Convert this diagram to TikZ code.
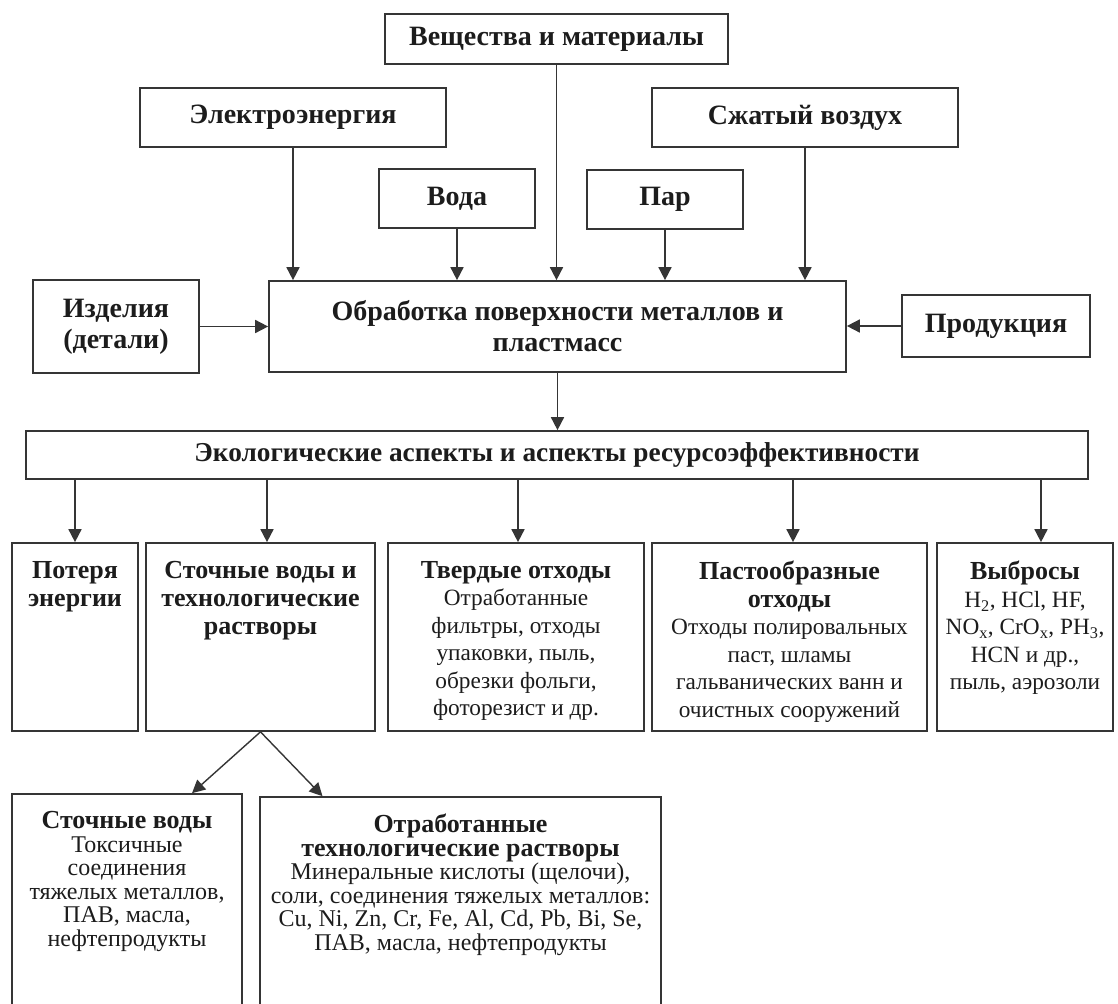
\documentclass[tikz,border=0pt]{standalone}
\usepackage{fontspec}
\setmainfont{Liberation Serif}
\usetikzlibrary{arrows.meta,positioning,calc}
\definecolor{ink}{HTML}{1C1C1C}
\definecolor{edge}{HTML}{353535}
\newcommand{\hdfont}{\fontsize{28}{31}\selectfont\bfseries}
\newcommand{\rowhd}{\fontsize{26}{27.5}\selectfont\bfseries}
\newcommand{\rowfont}{\fontsize{23.3}{27.5}\selectfont}
\newcommand{\lowhd}{\fontsize{26}{23.5}\selectfont\bfseries}
\newcommand{\lowfont}{\fontsize{24}{23.5}\selectfont}
\tikzset{
  every node/.style={font=\rowfont, text=ink},
  box/.style={draw=edge, line width=1.7pt, align=center, inner sep=0pt},
  hd/.style={box, font=\hdfont},
  txt/.style={align=center, inner sep=0pt, anchor=north},
  arr/.style={-{Triangle[length=13pt,width=13pt]}, draw=edge, line width=1.7pt},
}

\begin{document}
\begin{tikzpicture}[x=1pt,y=-1pt]
  \useasboundingbox (0,0) rectangle (1118,1003);
  \clip (0,0) rectangle (1118,1003);

  % resources coming in
  \node[hd, minimum width=343pt, minimum height=50pt] (mat) at (556.5,39) {Вещества и материалы};
  \node[hd, minimum width=306pt, minimum height=59pt] (elec) at (293,117.5) {Электроэнергия};
  \node[hd, minimum width=306pt, minimum height=59pt] (air) at (805,117.5) {Сжатый воздух};
  \node[hd, minimum width=156pt, minimum height=59pt] (water) at (457,198.5) {Вода};
  \node[hd, minimum width=156pt, minimum height=59pt] (steam) at (665,199.5) {Пар};

  \node[hd, minimum width=577pt, minimum height=91pt] (main) at (557.5,326.5) {Обработка поверхности металлов и\\пластмасс};
  \node[hd, minimum width=166pt, minimum height=93pt] (parts) at (116,326.5) {Изделия\\(детали)};
  \node[hd, minimum width=188pt, minimum height=62pt] (prod) at (996,326) {Продукция};

  \node[hd, font=\fontsize{27.3}{31}\selectfont\bfseries, minimum width=1062pt, minimum height=48pt] (eco) at (557,455) {Экологические аспекты и аспекты ресурсоэффективности};

  % outputs
  \node[box, minimum width=126pt, minimum height=188pt] (loss) at (75,637) {};
  \node[box, minimum width=229pt, minimum height=188pt] (ww) at (260.5,637) {};
  \node[box, minimum width=256pt, minimum height=188pt] (solid) at (516,637) {};
  \node[box, minimum width=275pt, minimum height=188pt] (paste) at (789.5,637) {};
  \node[box, minimum width=176pt, minimum height=188pt] (emis) at (1025,637) {};

  \node[txt, font=\rowhd\fontsize{26}{28}\selectfont] (lossT) at ($(loss.north)+(0,19)$) {Потеря\\энергии};
  \node[txt, font=\rowhd\fontsize{26}{28}\selectfont] (wwT) at ($(ww.north)+(0,19)$) {Сточные воды и\\технологические\\растворы};
  \node[txt] (solidT) at ($(solid.north)+(0,19)$) {{\rowhd Твердые отходы}\\Отработанные\\фильтры, отходы\\упаковки, пыль,\\обрезки фольги,\\фоторезист и др.};
  \node[txt] (pasteT) at ($(paste.north)+(0,19)$) {{\rowhd Пастообразные}\\{\rowhd отходы}\\Отходы полировальных\\паст, шламы\\гальванических ванн и\\очистных сооружений};
  \node[txt] (emisT) at ($(emis.north)+(0,19)$) {{\rowhd Выбросы}\\H\textsubscript{2}, HCl, HF,\\NO\textsubscript{x}, CrO\textsubscript{x}, PH\textsubscript{3},\\HCN и др.,\\пыль, аэрозоли};

  \node[box, minimum width=230pt, minimum height=226pt] (swat) at (127,907) {};
  \node[box, minimum width=401pt, minimum height=223pt] (spent) at (460.5,908.5) {};
  \node[txt, font=\lowfont] (swatT) at ($(swat.north)+(0,18)$) {{\lowhd Сточные воды}\\Токсичные\\соединения\\тяжелых металлов,\\ПАВ, масла,\\нефтепродукты};
  \node[txt, font=\lowfont] (spentT) at ($(spent.north)+(0,18)$) {{\lowhd Отработанные}\\{\lowhd технологические растворы}\\Минеральные кислоты (щелочи),\\соли, соединения тяжелых металлов:\\Cu, Ni, Zn, Cr, Fe, Al, Cd, Pb, Bi, Se,\\ПАВ, масла, нефтепродукты};

  % arrow ends that sit off the centre
  \coordinate (wwin) at ($(ww.north)+(6.5,0)$);
  \coordinate (solidin) at ($(solid.north)+(2,0)$);
  \coordinate (pastein) at ($(paste.north)+(3.5,0)$);
  \coordinate (emisin) at ($(emis.north)+(16,0)$);
  \coordinate (swatin) at ($(swat.north)+(65,0)$);
  \coordinate (spentin) at ($(spent.north)+(-138,0)$);

  \draw[arr] (elec.south) -- (elec.south |- main.north);
  \draw[arr] (water.south) -- (water.south |- main.north);
  \draw[arr] (mat.south) -- (mat.south |- main.north);
  \draw[arr] (steam.south) -- (steam.south |- main.north);
  \draw[arr] (air.south) -- (air.south |- main.north);
  \draw[arr] (parts.east) -- (main.west |- parts.east);
  \draw[arr] (prod.west) -- (main.east |- prod.west);
  \draw[arr] (main.south) -- (eco.north -| main.south);

  \draw[arr] (eco.south -| loss.north) -- (loss.north);
  \draw[arr] (eco.south -| wwin) -- (wwin);
  \draw[arr] (eco.south -| solidin) -- (solidin);
  \draw[arr] (eco.south -| pastein) -- (pastein);
  \draw[arr] (eco.south -| emisin) -- (emisin);

  \draw[arr, line width=1.4pt] (ww.south) -- (swatin);
  \draw[arr, line width=1.4pt] (ww.south) -- (spentin);
\end{tikzpicture}
\end{document}
